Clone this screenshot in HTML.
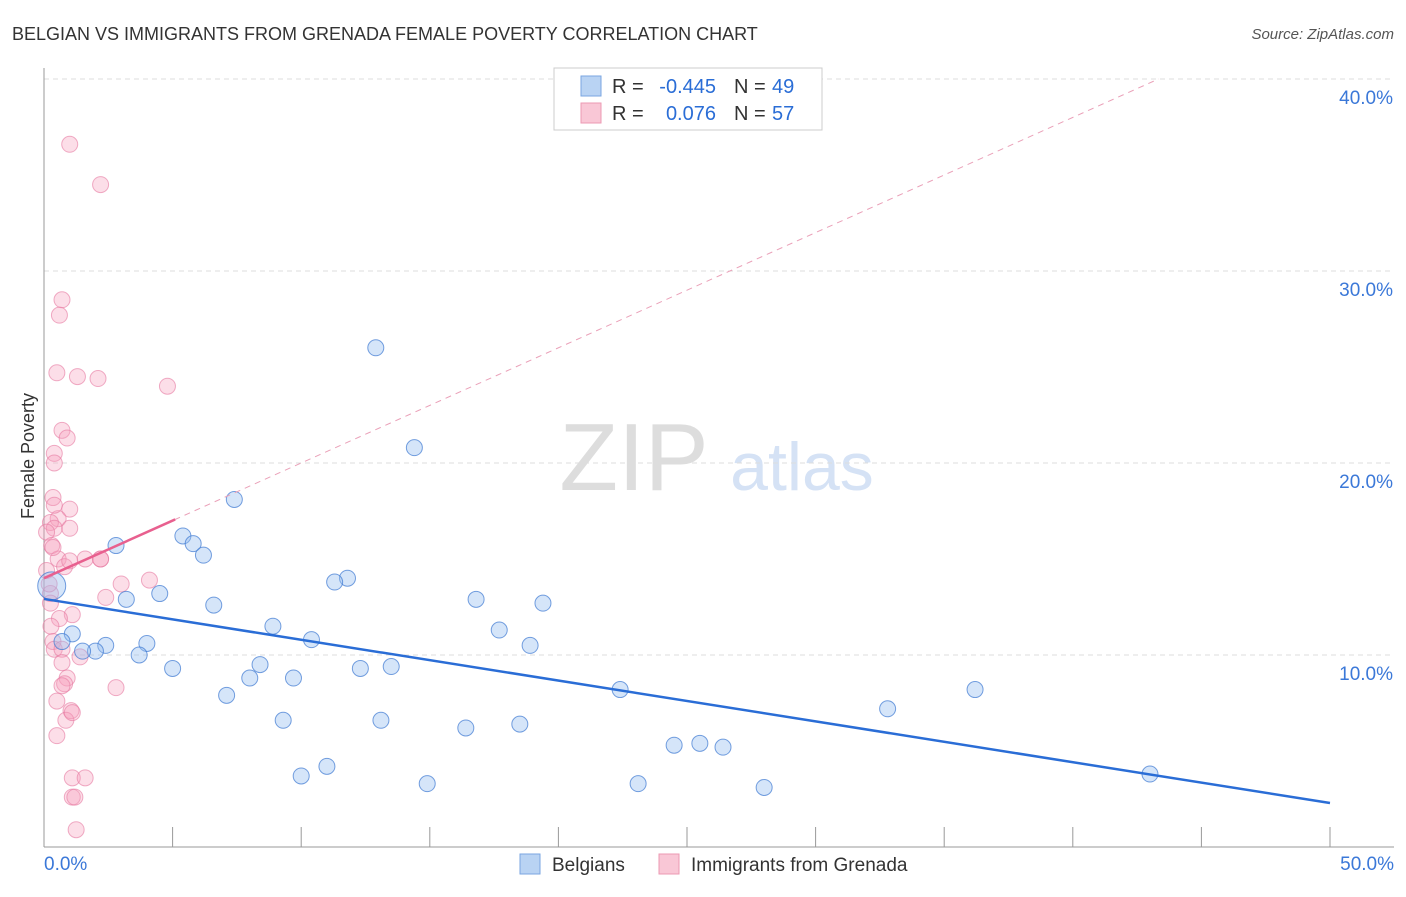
<!DOCTYPE html>
<html><head><meta charset="utf-8"><style>
body{margin:0;background:#fff;font-family:"Liberation Sans",sans-serif;}
svg text{font-family:"Liberation Sans",sans-serif;}
</style></head><body>
<svg id="c" width="1406" height="892">
<text x="12" y="40" font-size="18" fill="#333">BELGIAN VS IMMIGRANTS FROM GRENADA FEMALE POVERTY CORRELATION CHART</text>
<text x="1394" y="39" font-size="15" fill="#555" font-style="italic" text-anchor="end">Source: ZipAtlas.com</text>
<text x="634" y="490" font-size="96" fill="#ddd" font-family="Liberation Serif" text-anchor="middle">ZIP</text>
<text x="802" y="490" font-size="68" fill="#d5e2f5" text-anchor="middle">atlas</text>
<text transform="translate(34,456) rotate(-90)" font-size="18" fill="#333" text-anchor="middle">Female Poverty</text>
<g id="grid"></g><g id="pts"></g><g id="lines"></g>
<g>
<rect x="554" y="68" width="268" height="62" fill="#fff" stroke="#ccc"/>
<rect x="581" y="76" width="20" height="20" fill="#b9d3f3" stroke="#7aa6e0"/>
<rect x="581" y="103" width="20" height="20" fill="#f9c7d6" stroke="#ec9ab3"/>
<text x="612" y="93" font-size="20" fill="#333">R =</text>
<text x="716" y="93" font-size="20" fill="#2a6dd6" text-anchor="end">-0.445</text>
<text x="734" y="93" font-size="20" fill="#333">N =</text>
<text x="772" y="93" font-size="20" fill="#2a6dd6">49</text>
<text x="612" y="120" font-size="20" fill="#333">R =</text>
<text x="716" y="120" font-size="20" fill="#2a6dd6" text-anchor="end">0.076</text>
<text x="734" y="120" font-size="20" fill="#333">N =</text>
<text x="772" y="120" font-size="20" fill="#2a6dd6">57</text>
</g>
<g>
<rect x="520" y="854" width="20" height="20" fill="#b9d3f3" stroke="#7aa6e0"/>
<text x="552" y="871" font-size="19" fill="#333">Belgians</text>
<rect x="659" y="854" width="20" height="20" fill="#f9c7d6" stroke="#ec9ab3"/>
<text x="691" y="871" font-size="19" fill="#333">Immigrants from Grenada</text>
</g>
</svg>
<script>
const yTicks=[10,20,30,40];
const xLabels=["0.0%","50.0%"];
const blueX=[12.9,14.4,7.4,5.4,5.8,6.2,2.8,11.8,11.3,4.5,3.2,6.6,16.8,19.4,8.9,17.7,10.4,4.0,2.4,1.1,0.7,2.0,1.5,3.7,18.9,8.4,5.0,9.7,12.3,13.5,8.0,7.1,22.4,36.2,32.8,9.3,13.1,16.4,18.5,24.5,25.5,26.4,10.0,11.0,14.9,23.1,28.0,43.0,0.3];
const blueY=[26.0,20.8,18.1,16.2,15.8,15.2,15.7,14.0,13.8,13.2,12.9,12.6,12.9,12.7,11.5,11.3,10.8,10.6,10.5,11.1,10.7,10.2,10.2,10.0,10.5,9.5,9.3,8.8,9.3,9.4,8.8,7.9,8.2,8.2,7.2,6.6,6.6,6.2,6.4,5.3,5.4,5.2,3.7,4.2,3.3,3.3,3.1,3.8,13.6];
const pinkX=[1.0,2.2,0.7,0.6,0.5,1.3,2.1,4.8,0.7,0.9,0.4,0.4,0.35,1.0,0.55,0.25,0.4,1.0,0.1,0.3,1.6,2.2,0.55,0.8,4.1,3.0,2.4,0.25,0.25,1.1,0.6,0.27,0.35,0.4,0.7,1.4,0.7,0.9,0.8,2.8,0.7,0.5,1.05,0.85,0.5,1.1,1.1,1.6,1.1,1.2,1.25,0.35,0.1,1.0,0.4,0.2,2.2];
const pinkY=[36.6,34.5,28.5,27.7,24.7,24.5,24.4,24.0,21.7,21.3,20.5,20.0,18.2,17.6,17.1,16.9,16.6,16.6,16.4,15.7,15.0,15.0,15.0,14.6,13.9,13.7,13.0,13.2,12.7,12.1,11.9,11.5,10.7,10.3,10.3,9.9,9.6,8.8,8.5,8.3,8.4,7.6,7.1,6.6,5.8,7.0,3.6,3.6,2.6,2.6,0.9,15.6,14.4,14.9,17.8,13.7,15.0];
const blueLine=[12.92,2.29];
const pinkLine=[14.0,0.6];
const X=v=>44+v*25.72, Y=v=>847-v*19.2;
const ns="http://www.w3.org/2000/svg";
function mk(tag,attrs,parent){const e=document.createElementNS(ns,tag);for(const k in attrs)e.setAttribute(k,attrs[k]);parent.appendChild(e);return e;}
const g=document.getElementById('grid');
yTicks.forEach(t=>{
 const l=mk('line',{x1:44,x2:1394,y1:Y(t),y2:Y(t),stroke:'#ddd','stroke-dasharray':'5,4'},g);
 
 
 const tx=mk('text',{x:1393,y:Y(t)+25,'font-size':19,fill:'#3b78d8','text-anchor':'end'},g);
 tx.textContent=t.toFixed(1)+'%';
 
 
});
const ax=mk('line',{x1:44,x2:44,y1:68,y2:847,stroke:'#999'},g);


const bx=mk('line',{x1:44,x2:1394,y1:847,y2:847,stroke:'#999'},g);


for(let i=1;i<=10;i++){const t=mk('line',{x1:X(i*5),x2:X(i*5),y1:827,y2:847,stroke:'#999'},g);
 
 }
[[0,'start',44],[50,'end',1394]].forEach((a,i)=>{const t=mk('text',{x:a[2],y:870,'font-size':19,fill:'#3b78d8','text-anchor':a[1]},g);t.textContent=xLabels[i];
 
 });
const p=document.getElementById('pts');
pinkX.forEach((x,i)=>{const c=mk('circle',{cx:X(x),cy:Y(pinkY[i]),r:8,fill:'rgba(245,160,190,0.35)',stroke:'rgba(230,120,160,0.6)'},p);
 
 });
blueX.forEach((x,i)=>{const c=mk('circle',{cx:X(x),cy:Y(blueY[i]),r:i==48?14:8,fill:'rgba(150,190,240,0.4)',stroke:'rgba(60,120,210,0.7)'},p);
 
 });
const L=document.getElementById('lines');
const bl=mk('line',{x1:X(0),y1:Y(blueLine[0]),x2:X(50),y2:Y(blueLine[1]),stroke:'#2a6dd6','stroke-width':2.5},L);


const xe=(40-pinkLine[0])/pinkLine[1];
const pd=mk('line',{x1:X(0),y1:Y(pinkLine[0]),x2:X(xe),y2:Y(40),stroke:'#eaa0b8','stroke-width':1,'stroke-dasharray':'6,5'},L);


const ps=mk('line',{x1:X(0),y1:Y(pinkLine[0]),x2:X(5.1),y2:Y(pinkLine[0]+5.1*pinkLine[1]),stroke:'#e8608f','stroke-width':2.5},L);


</script>
</body></html>
